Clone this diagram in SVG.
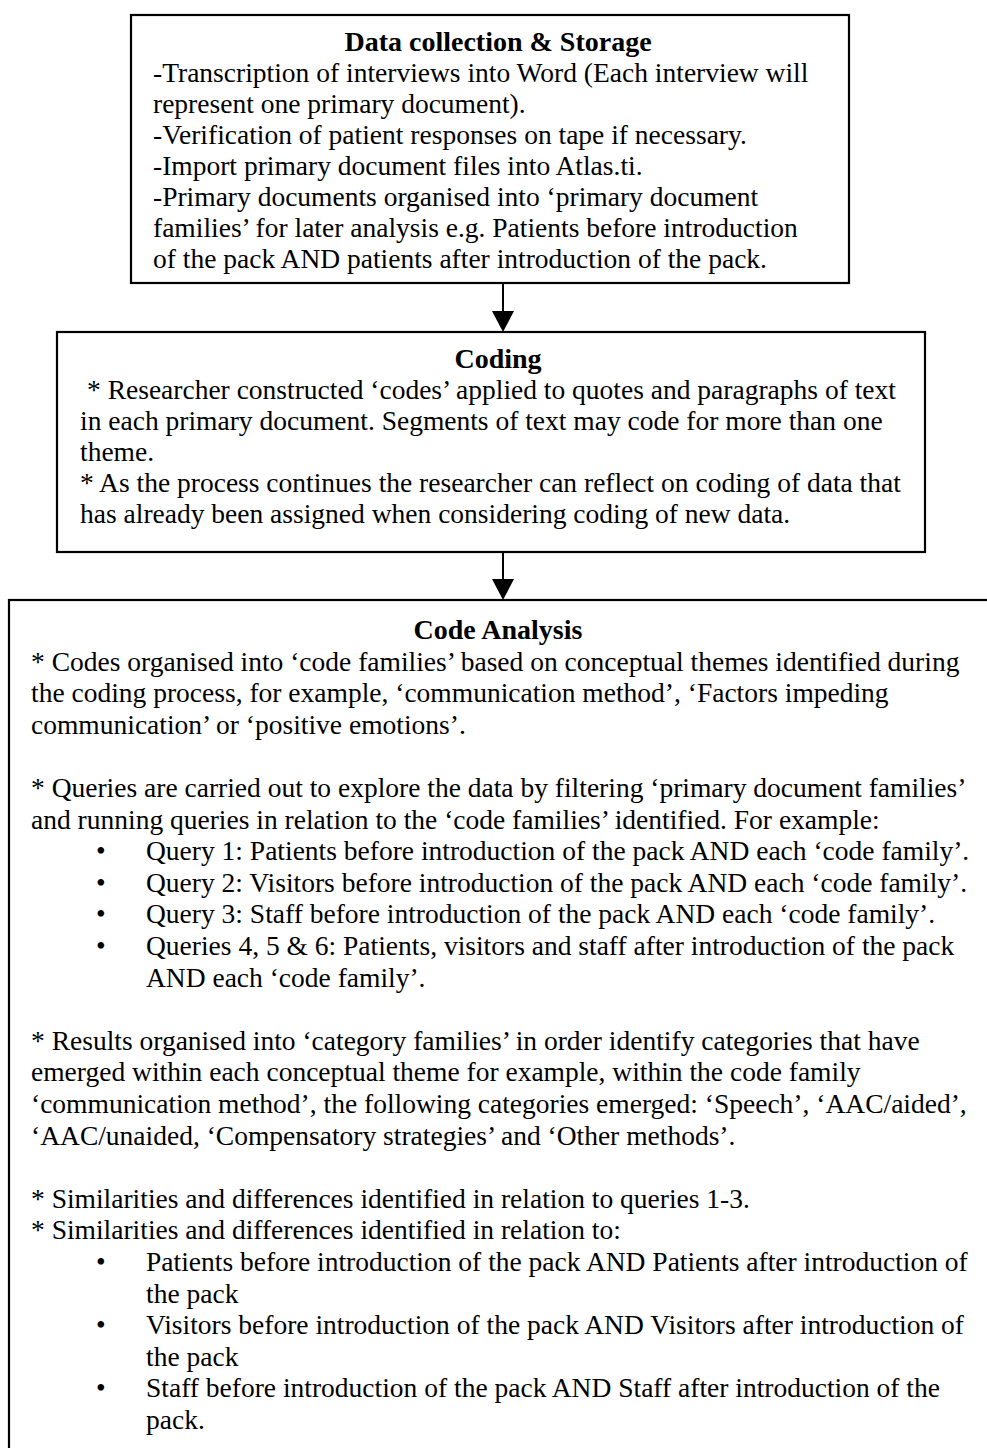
<svg xmlns="http://www.w3.org/2000/svg" width="987" height="1448" viewBox="0 0 987 1448">
<style>
.box{fill:#fff;stroke:#000;stroke-width:2.2}
text{font-family:"Liberation Serif","Times New Roman",serif;font-size:27.5px;fill:#000}
.t{font-weight:bold;text-anchor:middle;font-size:28px}
.c{stroke:#000;stroke-width:2;fill:none}
.h{fill:#000}
</style>
<rect width="987" height="1448" fill="#fff"/>
<g id="connectors">
<line class="c" x1="503" y1="283" x2="503" y2="312"/>
<path class="h" d="M492,311 L514,311 L503,332 Z"/>
<line class="c" x1="503" y1="552" x2="503" y2="580"/>
<path class="h" d="M492,579 L514,579 L503,600 Z"/>
</g>
<g id="node-data-collection">
<rect class="box" x="131" y="15" width="718" height="268"/>
<text class="t" x="498" y="51">Data collection &amp; Storage</text>
<text x="153" y="82">-Transcription of interviews into Word (Each interview will</text>
<text x="153" y="113">represent one primary document).</text>
<text x="153" y="144">-Verification of patient responses on tape if necessary.</text>
<text x="153" y="175">-Import primary document files into Atlas.ti.</text>
<text x="153" y="206">-Primary documents organised into ‘primary document</text>
<text x="153" y="237">families’ for later analysis e.g. Patients before introduction</text>
<text x="153" y="268">of the pack AND patients after introduction of the pack.</text>
</g>
<g id="node-coding">
<rect class="box" x="57" y="332" width="868" height="220"/>
<text class="t" x="498" y="368">Coding</text>
<text x="87" y="399">* Researcher constructed ‘codes’ applied to quotes and paragraphs of text</text>
<text x="80" y="430">in each primary document. Segments of text may code for more than one</text>
<text x="80" y="461">theme.</text>
<text x="80" y="492">* As the process continues the researcher can reflect on coding of data that</text>
<text x="80" y="523">has already been assigned when considering coding of new data.</text>
</g>
<g id="node-code-analysis">
<rect class="box" x="9" y="600" width="990" height="860"/>
<text class="t" x="498" y="639">Code Analysis</text>
<text x="31" y="671">* Codes organised into ‘code families’ based on conceptual themes identified during</text>
<text x="31" y="702">the coding process, for example, ‘communication method’, ‘Factors impeding</text>
<text x="31" y="734">communication’ or ‘positive emotions’.</text>
<text x="31" y="797">* Queries are carried out to explore the data by filtering ‘primary document families’</text>
<text x="31" y="829">and running queries in relation to the ‘code families’ identified.  For example:</text>
<text x="96" y="860">•</text><text x="146" y="860">Query 1: Patients before introduction of the pack AND each ‘code family’.</text>
<text x="96" y="892">•</text><text x="146" y="892">Query 2: Visitors before introduction of the pack AND each ‘code family’.</text>
<text x="96" y="923">•</text><text x="146" y="923">Query 3: Staff before introduction of the pack AND each ‘code family’.</text>
<text x="96" y="955">•</text><text x="146" y="955">Queries 4, 5 &amp; 6: Patients, visitors and staff after introduction of the pack</text>
<text x="146" y="987">AND each ‘code family’.</text>
<text x="31" y="1050">* Results organised into ‘category families’ in order identify categories that have</text>
<text x="31" y="1081">emerged within each conceptual theme for example, within the code family</text>
<text x="31" y="1113">‘communication method’, the following categories emerged: ‘Speech’, ‘AAC/aided’,</text>
<text x="31" y="1145">‘AAC/unaided, ‘Compensatory strategies’ and ‘Other methods’.</text>
<text x="31" y="1208">* Similarities and differences identified in relation to queries 1-3.</text>
<text x="31" y="1239">* Similarities and differences identified in relation to:</text>
<text x="96" y="1271">•</text><text x="146" y="1271">Patients before introduction of the pack AND Patients after introduction of</text>
<text x="146" y="1303">the pack</text>
<text x="96" y="1334">•</text><text x="146" y="1334">Visitors before introduction of the pack AND Visitors after introduction of</text>
<text x="146" y="1366">the pack</text>
<text x="96" y="1397">•</text><text x="146" y="1397">Staff before introduction of the pack AND Staff after introduction of the</text>
<text x="146" y="1429">pack.</text>
</g>
</svg>
